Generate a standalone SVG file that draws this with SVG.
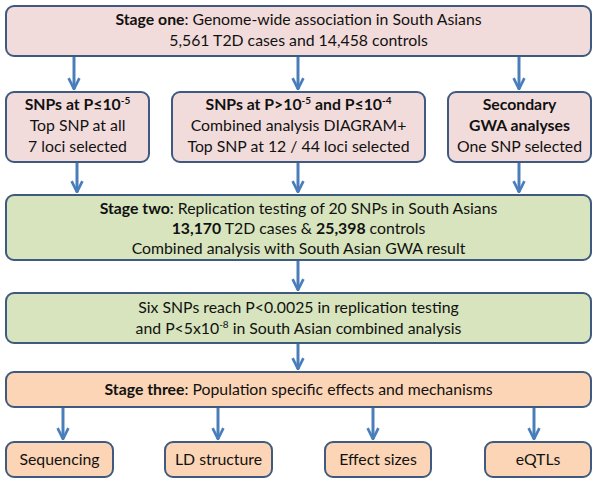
<svg xmlns="http://www.w3.org/2000/svg" width="600" height="481" viewBox="0 0 600 481">
<defs>
<marker id="ah" viewBox="0 0 10 10" refX="9" refY="5" markerWidth="4.5" markerHeight="4.5" orient="auto" markerUnits="strokeWidth">
<path d="M1,1 L9,5 L1,9" fill="none" stroke="#4a7ebb" stroke-width="2"/>
</marker>
<style>
text{font-family:Lato,"Open Sans","Liberation Sans",sans-serif;font-size:15.8px;fill:#111;text-anchor:middle}
.b{font-weight:bold}
.box{stroke:#3e5a80;stroke-width:2}
.pink{fill:#f2dcdb}
.green{fill:#d7e4bd}
.orange{fill:#fbd5b5}
.arr{stroke:#4a7ebb;stroke-width:3;fill:none;marker-end:url(#ah)}
.sup{font-size:10px}
</style>
</defs>
<rect width="600" height="481" fill="#fff"/>
<g id="connectors">
<line class="arr" x1="74" y1="56" x2="74" y2="89"/>
<line class="arr" x1="298" y1="56" x2="298" y2="89"/>
<line class="arr" x1="519" y1="56" x2="519" y2="89"/>
<line class="arr" x1="77" y1="162" x2="77" y2="192"/>
<line class="arr" x1="298" y1="162" x2="298" y2="192"/>
<line class="arr" x1="519" y1="162" x2="519" y2="192"/>
<line class="arr" x1="298" y1="260" x2="298" y2="290"/>
<line class="arr" x1="298" y1="343" x2="298" y2="369"/>
<line class="arr" x1="63" y1="407" x2="63" y2="439"/>
<line class="arr" x1="218" y1="407" x2="218" y2="439"/>
<line class="arr" x1="373" y1="407" x2="373" y2="439"/>
<line class="arr" x1="534" y1="407" x2="534" y2="439"/>
</g>
<g id="stage1">
<rect class="box pink" x="6" y="6" width="585" height="50" rx="8"/>
<text x="298.5" y="25"><tspan class="b">Stage one</tspan>: Genome-wide association in South Asians</text>
<text x="298.5" y="46">5,561 T2D cases and 14,458 controls</text>
</g>
<g id="snps1">
<rect class="box pink" x="6" y="92" width="143" height="70" rx="8"/>
<text x="77.5" y="110" class="b">SNPs at P≤10<tspan class="sup" dy="-6">-5</tspan></text>
<text x="77.5" y="131">Top SNP at all</text>
<text x="77.5" y="152">7 loci selected</text>
</g>
<g id="snps2">
<rect class="box pink" x="172" y="92" width="253" height="70" rx="8"/>
<text x="298.5" y="110" class="b">SNPs at P&gt;10<tspan class="sup" dy="-6">-5</tspan><tspan dy="6"> and P≤10</tspan><tspan class="sup" dy="-6">-4</tspan></text>
<text x="298.5" y="131">Combined analysis DIAGRAM+</text>
<text x="298.5" y="152">Top SNP at 12 / 44 loci selected</text>
</g>
<g id="secondary">
<rect class="box pink" x="448" y="92" width="143" height="70" rx="8"/>
<text x="519.5" y="110" class="b">Secondary</text>
<text x="519.5" y="131" class="b">GWA analyses</text>
<text x="519.5" y="152">One SNP selected</text>
</g>
<g id="stage2">
<rect class="box green" x="6" y="195" width="585" height="65" rx="8"/>
<text x="298.5" y="214"><tspan class="b">Stage two</tspan>: Replication testing of 20 SNPs in South Asians</text>
<text x="298.5" y="234"><tspan class="b">13,170</tspan> T2D cases &amp; <tspan class="b">25,398</tspan> controls</text>
<text x="298.5" y="254">Combined analysis with South Asian GWA result</text>
</g>
<g id="six">
<rect class="box green" x="6" y="293" width="585" height="50" rx="8"/>
<text x="298.5" y="313">Six SNPs reach P&lt;0.0025 in replication testing</text>
<text x="298.5" y="334">and P&lt;5x10<tspan class="sup" dy="-6">-8</tspan><tspan dy="6"> in South Asian combined analysis</tspan></text>
</g>
<g id="stage3">
<rect class="box orange" x="6" y="372" width="585" height="35" rx="8"/>
<text x="298.5" y="395"><tspan class="b">Stage three</tspan>: Population specific effects and mechanisms</text>
</g>
<g id="seq">
<rect class="box orange" x="6" y="442" width="107" height="35" rx="8"/>
<text x="59.5" y="465">Sequencing</text>
</g>
<g id="ld">
<rect class="box orange" x="165" y="442" width="107" height="35" rx="8"/>
<text x="218.5" y="465">LD structure</text>
</g>
<g id="effect">
<rect class="box orange" x="325" y="442" width="106" height="35" rx="8"/>
<text x="378" y="465">Effect sizes</text>
</g>
<g id="eqtl">
<rect class="box orange" x="485" y="442" width="106" height="35" rx="8"/>
<text x="538" y="465">eQTLs</text>
</g>
</svg>
